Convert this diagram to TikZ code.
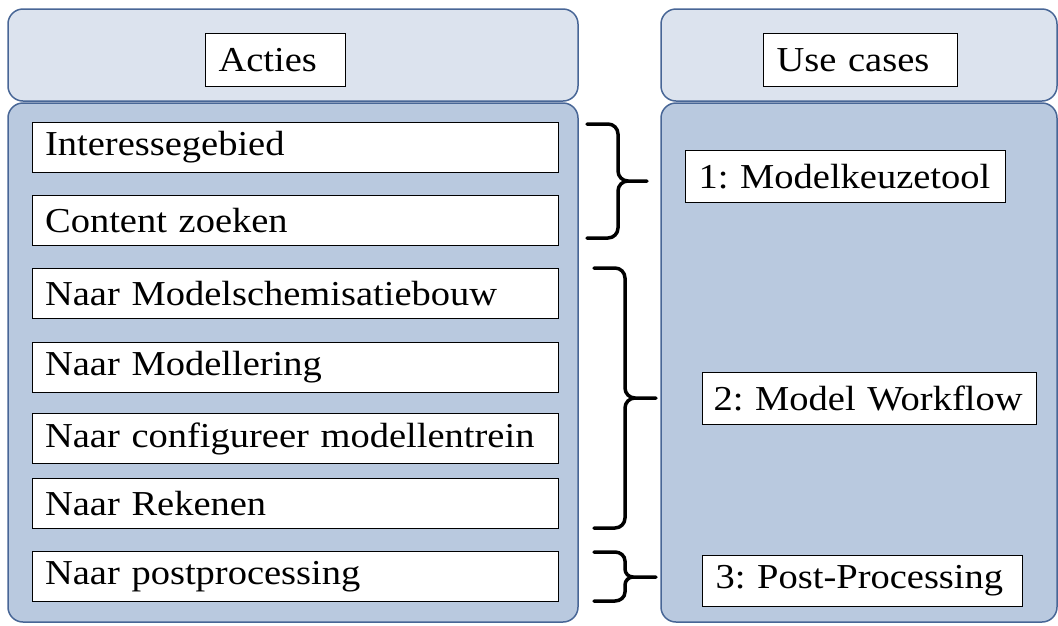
\documentclass[tikz,border=0pt]{standalone}
\usepackage{fontspec}
\setmainfont[FakeStretch=1.1]{Liberation Serif}
\frenchspacing
\definecolor{hdrfill}{RGB}{220,227,238}
\definecolor{bodyfill}{RGB}{185,201,223}
\definecolor{panelline}{RGB}{72,102,150}
\begin{document}
\begin{tikzpicture}[x=1pt,y=-1pt,
  panelhdr/.style={draw=panelline,line width=1.5pt,fill=hdrfill,rounded corners=15pt},
  panelbody/.style={draw=panelline,line width=1.5pt,fill=bodyfill,rounded corners=15pt},
  itembox/.style={draw=black,line width=1.2pt,fill=white,anchor=north west,
    minimum height=50pt,inner xsep=12.5pt,inner ysep=0pt,align=left,
    font=\fontsize{35}{40}\selectfont},
  titlebox/.style={draw=black,line width=1.2pt,fill=white,anchor=north west,
    minimum height=53pt,inner xsep=13pt,inner ysep=0pt,align=left,
    font=\fontsize{35}{40}\selectfont},
  brace/.style={draw=black,line width=3.5pt,line cap=round,line join=round}
]
\useasboundingbox (0,0) rectangle (1058,625);
% panels
\draw[panelhdr] (8,9) rectangle (578,101);
\draw[panelbody] (8,103) rectangle (578,622);
\draw[panelhdr] (661,9) rectangle (1057,101);
\draw[panelbody] (661,103) rectangle (1057,622);
% titles
\node[titlebox,minimum width=140pt,text width=114pt] (acties) at (205,33) {Acties};
\node[titlebox,minimum width=194pt,text width=168pt] (usecases) at (763,33) {Use cases};
% left items
\node[itembox,minimum width=526pt,text width=501pt] (i1) at (32,122) {Interessegebied};
\node[itembox,minimum width=526pt,text width=501pt] (i2) at (32,195) {Content zoeken};
\node[itembox,minimum width=526pt,text width=501pt] (i3) at (32,268) {Naar Modelschemisatiebouw};
\node[itembox,minimum width=526pt,text width=501pt] (i4) at (32,342) {Naar Modellering};
\node[itembox,minimum width=526pt,text width=501pt] (i5) at (32,413) {Naar configureer modellentrein};
\node[itembox,minimum width=526pt,text width=501pt] (i6) at (32,478) {Naar Rekenen};
\node[itembox,minimum width=526pt,text width=501pt] (i7) at (32,551) {Naar postprocessing};
% right items
\node[itembox,minimum width=320pt,text width=294pt,minimum height=52pt,inner xsep=13pt] (u1) at (685,150) {1: Modelkeuzetool};
\node[itembox,minimum width=334pt,text width=312pt,minimum height=52pt,inner xsep=11pt] (u2) at (702,372) {2: Model Workflow};
\node[itembox,minimum width=320pt,text width=294pt,minimum height=51pt,inner xsep=13pt] (u3) at (702,555) {3: Post-Processing};
% braces
\coordinate (b1t) at (587,124);
\coordinate (b1b) at (587,238);
\coordinate (b1p) at (647,181);
\draw[brace] (b1t) -- (608,124) to[out=0,in=90] (618,134) -- (618,171)
  to[out=-90,in=180] (628,181) -- (b1p);
\draw[brace] (b1b) -- (608,238) to[out=0,in=-90] (618,228) -- (618,191)
  to[out=90,in=180] (628,181);
\coordinate (b2t) at (594,268);
\coordinate (b2b) at (594,528);
\coordinate (b2p) at (656,398);
\draw[brace] (b2t) -- (615,268) to[out=0,in=90] (625,278) -- (625,388)
  to[out=-90,in=180] (635,398) -- (b2p);
\draw[brace] (b2b) -- (615,528) to[out=0,in=-90] (625,518) -- (625,408)
  to[out=90,in=180] (635,398);
\coordinate (b3t) at (594,552);
\coordinate (b3b) at (594,601);
\coordinate (b3p) at (656,577);
\draw[brace] (b3t) -- (615,552) to[out=0,in=90] (625,561) -- (625,569)
  to[out=-90,in=180] (633,577) -- (b3p);
\draw[brace] (b3b) -- (615,601) to[out=0,in=-90] (625,592) -- (625,585)
  to[out=90,in=180] (633,577);
\end{tikzpicture}
\end{document}
